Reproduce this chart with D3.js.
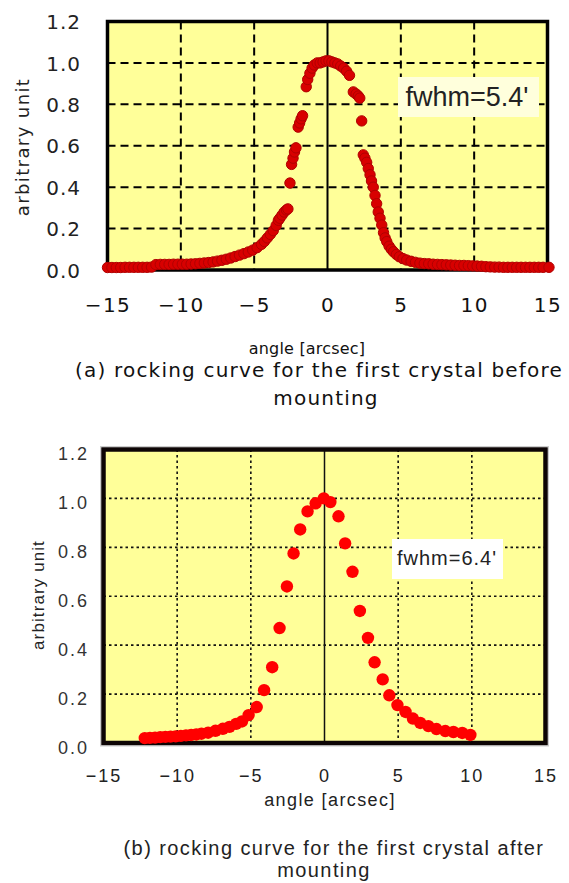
<!DOCTYPE html>
<html>
<head>
<meta charset="utf-8">
<script src="https://cdn.jsdelivr.net/npm/d3@7"></script>
<style>
  html, body { margin: 0; padding: 0; background: #fff; }
  svg { display: block; }
</style>
</head>
<body>
<svg id="chart" width="569" height="883"></svg>
<script>
// ---- data: (a) first crystal before mounting ----
const angleA = [-15.0,-14.7,-14.4,-14.1,-13.8,-13.5,-13.2,-12.9,-12.6,-12.3,-12.0,-11.7,-11.4,-11.1,-10.8,-10.5,-10.2,-9.9,-9.6,-9.3,-9.0,-8.7,-8.4,-8.1,-7.8,-7.5,-7.2,-6.9,-6.6,-6.3,-6.0,-5.7,-5.4,-5.1,-4.8,-4.5,-4.3,-4.1,-3.9,-3.7,-3.5,-3.35,-3.25,-3.1,-2.95,-2.8,-2.7,-2.56,-2.45,-2.35,-2.25,-2.15,-2.0,-1.9,-1.8,-1.7,-1.45,-1.35,-1.2,-1.05,-0.9,-0.7,-0.5,-0.3,-0.1,0.1,0.3,0.5,0.7,0.9,1.1,1.3,1.5,1.76,1.95,2.1,2.2,2.33,2.44,2.55,2.67,2.78,2.9,3.0,3.12,3.24,3.35,3.46,3.58,3.7,3.82,3.93,4.04,4.2,4.35,4.5,4.7,4.9,5.15,5.4,5.7,6.0,6.3,6.6,6.9,7.2,7.5,7.8,8.1,8.4,8.7,9.0,9.3,9.6,9.9,10.2,10.5,10.8,11.1,11.4,11.7,12.0,12.3,12.6,12.9,13.2,13.5,13.8,14.1,14.4,14.7,15.1];
const intensityA = [0.012,0.012,0.012,0.012,0.013,0.013,0.013,0.013,0.013,0.013,0.014,0.026,0.027,0.027,0.027,0.028,0.028,0.028,0.028,0.029,0.030,0.032,0.034,0.036,0.039,0.043,0.047,0.052,0.058,0.065,0.072,0.079,0.087,0.096,0.108,0.124,0.138,0.155,0.172,0.19,0.215,0.24,0.25,0.265,0.28,0.29,0.295,0.42,0.51,0.54,0.57,0.59,0.69,0.71,0.73,0.745,0.885,0.92,0.95,0.975,0.99,1.0,1.0,1.005,1.01,1.01,1.005,1.0,0.995,0.985,0.975,0.96,0.94,0.86,0.85,0.84,0.83,0.72,0.556,0.54,0.52,0.49,0.46,0.43,0.40,0.36,0.32,0.28,0.25,0.217,0.18,0.155,0.137,0.115,0.1,0.088,0.075,0.064,0.055,0.048,0.042,0.037,0.033,0.031,0.03,0.028,0.027,0.026,0.025,0.024,0.023,0.022,0.022,0.021,0.02,0.019,0.018,0.016,0.015,0.014,0.014,0.013,0.013,0.013,0.013,0.013,0.013,0.013,0.013,0.013,0.013,0.013];

// ---- data: (b) first crystal after mounting ----
const angleB = [-12.2,-11.85,-11.5,-11.15,-10.8,-10.45,-10.1,-9.75,-9.4,-9.05,-8.7,-8.35,-7.9,-7.4,-6.9,-6.45,-6.0,-5.6,-5.15,-4.6,-4.1,-3.55,-3.05,-2.55,-2.1,-1.65,-1.15,-0.6,-0.05,0.4,0.95,1.4,1.9,2.4,2.95,3.4,3.95,4.4,4.95,5.5,6.0,6.5,7.05,7.6,8.2,8.75,9.35,9.9];
const intensityB = [0.02,0.021,0.022,0.024,0.025,0.026,0.027,0.029,0.031,0.033,0.035,0.038,0.042,0.05,0.058,0.066,0.078,0.088,0.114,0.147,0.216,0.31,0.47,0.64,0.775,0.873,0.947,0.98,1.0,0.985,0.927,0.816,0.70,0.54,0.43,0.33,0.26,0.195,0.155,0.127,0.10,0.082,0.069,0.057,0.049,0.045,0.041,0.033];

// ---- axes and labels ----
const xTicks = [-15, -10, -5, 0, 5, 10, 15];
const yTicks = [0, 0.2, 0.4, 0.6, 0.8, 1.0, 1.2];
const xTitle = "angle [arcsec]";
const yTitle = "arbitrary unit";
const fwhmA = "fwhm=5.4'";
const fwhmB = "fwhm=6.4'";
const captionA = ["(a) rocking curve for the first crystal before", "mounting"];
const captionB = ["(b) rocking curve for the first crystal after", "mounting"];

const svg = d3.select("#chart");

// ===== panel (a) =====
(function () {
  const font = "'DejaVu Sans', sans-serif";
  const x = d3.scaleLinear().domain([-15, 15]).range([107.5, 547.5]);
  const y = d3.scaleLinear().domain([0, 1.2]).range([270, 21.5]);
  const g = svg.append("g");

  g.append("rect")
    .attr("x", x(-15)).attr("y", y(1.2))
    .attr("width", x(15) - x(-15)).attr("height", y(0) - y(1.2))
    .attr("fill", "#ffff99");

  // dashed grid
  g.append("g").selectAll("line").data(xTicks.filter(d => d !== 0 && Math.abs(d) !== 15))
    .join("line")
    .attr("x1", d => x(d)).attr("x2", d => x(d))
    .attr("y1", y(1.2)).attr("y2", y(0))
    .attr("stroke", "#000").attr("stroke-width", 2).attr("stroke-dasharray", "8,5");
  g.append("g").selectAll("line").data(yTicks.filter(d => d > 0 && d < 1.2))
    .join("line")
    .attr("x1", x(-15)).attr("x2", x(15))
    .attr("y1", d => y(d)).attr("y2", d => y(d))
    .attr("stroke", "#000").attr("stroke-width", 2).attr("stroke-dasharray", "8,5");
  g.append("line")
    .attr("x1", x(0)).attr("x2", x(0)).attr("y1", y(1.2)).attr("y2", y(0))
    .attr("stroke", "#000").attr("stroke-width", 2);

  g.append("rect")
    .attr("x", x(-15)).attr("y", y(1.2))
    .attr("width", x(15) - x(-15)).attr("height", y(0) - y(1.2))
    .attr("fill", "none").attr("stroke", "#000").attr("stroke-width", 3.5);

  // fwhm note
  g.append("rect").attr("x", 398).attr("y", 77).attr("width", 141).attr("height", 40)
    .attr("fill", "#ffffdc");
  g.append("text").attr("x", 467).attr("y", 106)
    .attr("text-anchor", "middle")
    .style("font-family", "'Liberation Sans', Arial, sans-serif").style("font-size", "27px")
    .attr("fill", "#222")
    .text(fwhmA);

  // points
  const pts = angleA.map((a, i) => [a, intensityA[i]]);
  g.append("g").selectAll("circle").data(pts).join("circle")
    .attr("cx", d => x(d[0])).attr("cy", d => y(d[1])).attr("r", 5.2)
    .attr("fill", "#d80000").attr("stroke", "#b00000").attr("stroke-width", 1);

  // axes
  const ax = g.append("g").attr("transform", `translate(0,${y(0) + 35})`)
    .call(d3.axisBottom(x).tickValues(xTicks).tickSize(0).tickPadding(0).tickFormat(d3.format("d")));
  ax.select(".domain").remove();
  ax.selectAll("text").style("font-family", font).style("font-size", "20px")
    .style("letter-spacing", "1.5px").attr("fill", "#111").attr("dy", "0").attr("y", 7);

  const ay = g.append("g").attr("transform", `translate(81,0)`)
    .call(d3.axisLeft(y).tickValues(yTicks).tickSize(0).tickPadding(0).tickFormat(d3.format(".1f")));
  ay.select(".domain").remove();
  ay.selectAll("text").style("font-family", font).style("font-size", "20px")
    .style("letter-spacing", "1px").attr("fill", "#222").attr("dy", "0.36em");

  g.append("text").attr("x", 307).attr("y", 354).attr("text-anchor", "middle")
    .style("font-family", font).style("font-size", "16px").style("letter-spacing", "0.2px")
    .attr("fill", "#111").text(xTitle);
  g.append("text").attr("transform", "translate(29,147) rotate(-90)").attr("text-anchor", "middle")
    .style("font-family", font).style("font-size", "18px").style("letter-spacing", "1.4px")
    .attr("fill", "#222").text(yTitle);

  g.append("text").attr("x", 319).attr("y", 377).attr("text-anchor", "middle")
    .style("font-family", font).style("font-size", "20px").style("letter-spacing", "1.2px")
    .attr("fill", "#111").text(captionA[0]);
  g.append("text").attr("x", 326).attr("y", 405).attr("text-anchor", "middle")
    .style("font-family", font).style("font-size", "20px").style("letter-spacing", "1.2px")
    .attr("fill", "#111").text(captionA[1]);
})();

// ===== panel (b) =====
(function () {
  const font = "'Liberation Sans', Arial, sans-serif";
  const x = d3.scaleLinear().domain([-15, 15]).range([103.5, 545.5]);
  const y = d3.scaleLinear().domain([0, 1.2]).range([743, 449.5]);
  const g = svg.append("g");

  // light outer edge
  g.append("rect")
    .attr("x", x(-15) - 3).attr("y", y(1.2) - 3)
    .attr("width", x(15) - x(-15) + 6).attr("height", y(0) - y(1.2) + 6)
    .attr("fill", "none").attr("stroke", "#ccc").attr("stroke-width", 1);
  g.append("rect")
    .attr("x", x(-15)).attr("y", y(1.2))
    .attr("width", x(15) - x(-15)).attr("height", y(0) - y(1.2))
    .attr("fill", "#ffff99");

  // dotted grid
  g.append("g").selectAll("line").data(xTicks.filter(d => d !== 0 && Math.abs(d) !== 15))
    .join("line")
    .attr("x1", d => x(d)).attr("x2", d => x(d))
    .attr("y1", y(1.2)).attr("y2", y(0))
    .attr("stroke", "#111").attr("stroke-width", 1.6).attr("stroke-dasharray", "2.5,3");
  g.append("g").selectAll("line").data(yTicks.filter(d => d > 0 && d < 1.2))
    .join("line")
    .attr("x1", x(-15)).attr("x2", x(15))
    .attr("y1", d => y(d)).attr("y2", d => y(d))
    .attr("stroke", "#111").attr("stroke-width", 1.6).attr("stroke-dasharray", "2.5,3");
  g.append("line")
    .attr("x1", x(0)).attr("x2", x(0)).attr("y1", y(1.2)).attr("y2", y(0))
    .attr("stroke", "#111").attr("stroke-width", 1.5);

  g.append("rect")
    .attr("x", x(-15)).attr("y", y(1.2))
    .attr("width", x(15) - x(-15)).attr("height", y(0) - y(1.2))
    .attr("fill", "none").attr("stroke", "#0d0505").attr("stroke-width", 4.5);

  // fwhm note
  g.append("rect").attr("x", 392).attr("y", 539).attr("width", 111).attr("height", 40)
    .attr("fill", "#fff");
  g.append("text").attr("x", 447).attr("y", 565)
    .attr("text-anchor", "middle")
    .style("font-family", font).style("font-size", "20px").style("letter-spacing", "1px")
    .attr("fill", "#222").text(fwhmB);

  // points
  const pts = angleB.map((a, i) => [a, intensityB[i]]);
  g.append("g").selectAll("circle").data(pts).join("circle")
    .attr("cx", d => x(d[0])).attr("cy", d => y(d[1])).attr("r", 6.2)
    .attr("fill", "#ff0000");

  // axes
  const ax = g.append("g").attr("transform", `translate(0,${y(0) + 33})`)
    .call(d3.axisBottom(x).tickValues(xTicks).tickSize(0).tickPadding(0).tickFormat(d3.format("d")));
  ax.select(".domain").remove();
  ax.selectAll("text").style("font-family", font).style("font-size", "18px")
    .style("letter-spacing", "2px").attr("fill", "#222").attr("dy", "0.36em").attr("y", 0);

  const ay = g.append("g").attr("transform", `translate(89,4)`)
    .call(d3.axisLeft(y).tickValues(yTicks).tickSize(0).tickPadding(0).tickFormat(d3.format(".1f")));
  ay.select(".domain").remove();
  ay.selectAll("text").style("font-family", font).style("font-size", "18px")
    .style("letter-spacing", "2px").attr("fill", "#333").attr("dy", "0.36em");

  g.append("text").attr("x", 330).attr("y", 806).attr("text-anchor", "middle")
    .style("font-family", font).style("font-size", "18px").style("letter-spacing", "1.4px")
    .attr("fill", "#222").text(xTitle);
  g.append("text").attr("transform", "translate(44,595) rotate(-90)").attr("text-anchor", "middle")
    .style("font-family", font).style("font-size", "17px").style("letter-spacing", "1.1px")
    .attr("fill", "#222").text(yTitle);

  g.append("text").attr("x", 334).attr("y", 855).attr("text-anchor", "middle")
    .style("font-family", font).style("font-size", "20px").style("letter-spacing", "1.4px")
    .attr("fill", "#222").text(captionB[0]);
  g.append("text").attr("x", 324).attr("y", 877).attr("text-anchor", "middle")
    .style("font-family", font).style("font-size", "20px").style("letter-spacing", "1.4px")
    .attr("fill", "#222").text(captionB[1]);
})();
</script>
</body>
</html>
